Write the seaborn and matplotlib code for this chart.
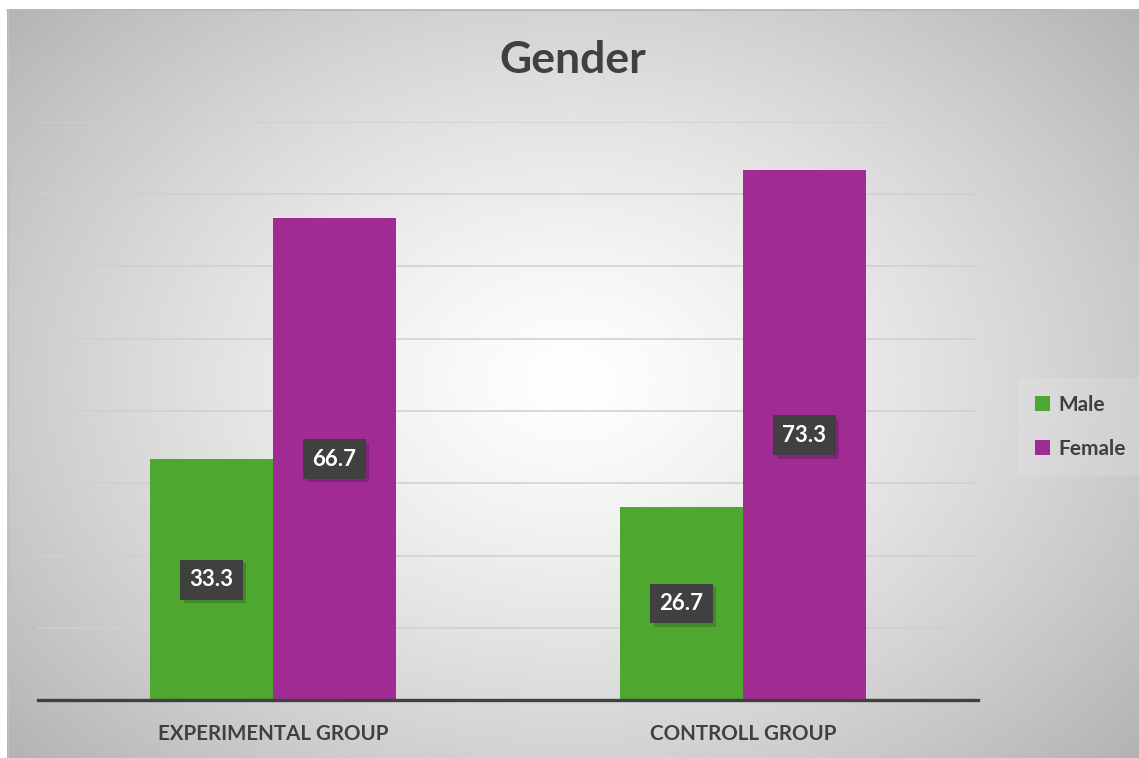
import numpy as np
import pandas as pd
import matplotlib
matplotlib.use("Agg")
import matplotlib.pyplot as plt
import seaborn as sns
import matplotlib.patheffects as pe
from matplotlib.patches import Patch

groups = ["EXPERIMENTAL GROUP", "CONTROLL GROUP"]
genders = ["Male", "Female"]
male_values = [33.3, 26.7]
female_values = [66.7, 73.3]
palette = {"Male": "#4EA72E", "Female": "#A02B93"}

df = pd.DataFrame({
    "group": groups * 2,
    "gender": ["Male"] * 2 + ["Female"] * 2,
    "value": male_values + female_values,
})

sns.set_theme(style="white")
plt.rcParams["font.family"] = ["Lato", "DejaVu Sans"]

W, H = 1139, 758
fig = plt.figure(figsize=(W / 100, H / 100), dpi=100)
fig.patch.set_facecolor("white")

# radial gradient background inside the chart frame
x0, y0 = 7, 9
bg = fig.add_axes([0, 0, 1, 1], zorder=-10)
yy, xx = np.mgrid[y0:H, x0:W]
cx, cy = 570, 380
r = np.sqrt(((xx - cx) / 640.0) ** 2 + ((yy - cy) / 480.0) ** 2)
v = 1.0 - 0.24 * np.clip(r, 0, 1.2) ** 1.3
v = np.clip(v, 0, 1)
img = np.dstack([v, v, v])
bg.imshow(img, extent=[x0, W, H, y0], aspect="auto", interpolation="bilinear")
bg.plot([x0, W, ], [y0 + 0.5, y0 + 0.5], color="#b8b8b8", lw=1.2)
bg.plot([x0 + 0.5, x0 + 0.5], [y0, H], color="#c0c0c0", lw=1.0)
bg.set_xlim(0, W)
bg.set_ylim(H, 0)
bg.axis("off")

ax = fig.add_axes([38 / W, 1 - 700 / H, (978 - 38) / W, (700 - 122) / H])
ax.patch.set_alpha(0)
sns.barplot(data=df, x="group", y="value", hue="gender", hue_order=genders,
            palette=palette, width=0.523, gap=0, ax=ax, saturation=1,
            edgecolor="none", legend=False, zorder=3)

ax.set_xlim(-0.5, 1.5)
ax.set_ylim(0, 80)
ax.set_yticks(np.arange(10, 81, 10))
ax.yaxis.grid(True, color="#cfcfcf", lw=1.1, zorder=0)
ax.set_axisbelow(True)
ax.tick_params(axis="y", left=False, labelleft=False)
ax.tick_params(axis="x", bottom=False, pad=11, labelsize=14.8, labelcolor="#404040")
for lbl in ax.get_xticklabels():
    lbl.set_fontweight("bold")
for s in ["top", "right", "left"]:
    ax.spines[s].set_visible(False)
ax.spines["bottom"].set_color("#404040")
ax.spines["bottom"].set_linewidth(2.4)
ax.spines["bottom"].set_zorder(5)
ax.set_xlabel("")
ax.set_ylabel("")

# data labels
for container in ax.containers:
    for bar in container:
        h = bar.get_height()
        xc = bar.get_x() + bar.get_width() / 2
        ax.text(xc, h / 2, f"{h:.1f}", ha="center", va="center", color="white",
                fontsize=16, fontweight="bold", zorder=6,
                bbox=dict(boxstyle="square,pad=0.42", facecolor="#404040",
                          edgecolor="none",
                          path_effects=[pe.SimplePatchShadow(offset=(2.5, -2.5), alpha=0.2),
                                        pe.Normal()]))

fig.text(573 / W, 1 - 60 / H, "Gender", ha="center", va="center", fontsize=32,
         fontweight="bold", color="#404040")

# legend
handles = [Patch(facecolor=palette[g], edgecolor="none") for g in genders]
leg = fig.legend(handles, genders, loc="center left", bbox_to_anchor=(1008 / W, 1 - 427 / H),
                 frameon=True, fontsize=15, handlelength=0.7, handleheight=0.7,
                 handletextpad=0.4, labelspacing=1.15, borderpad=0.8)
leg.get_frame().set_facecolor("white")
leg.get_frame().set_alpha(0.12)
leg.get_frame().set_edgecolor("none")
for t in leg.get_texts():
    t.set_fontweight("bold")
    t.set_color("#404040")

fig.savefig("out.png", dpi=100)
